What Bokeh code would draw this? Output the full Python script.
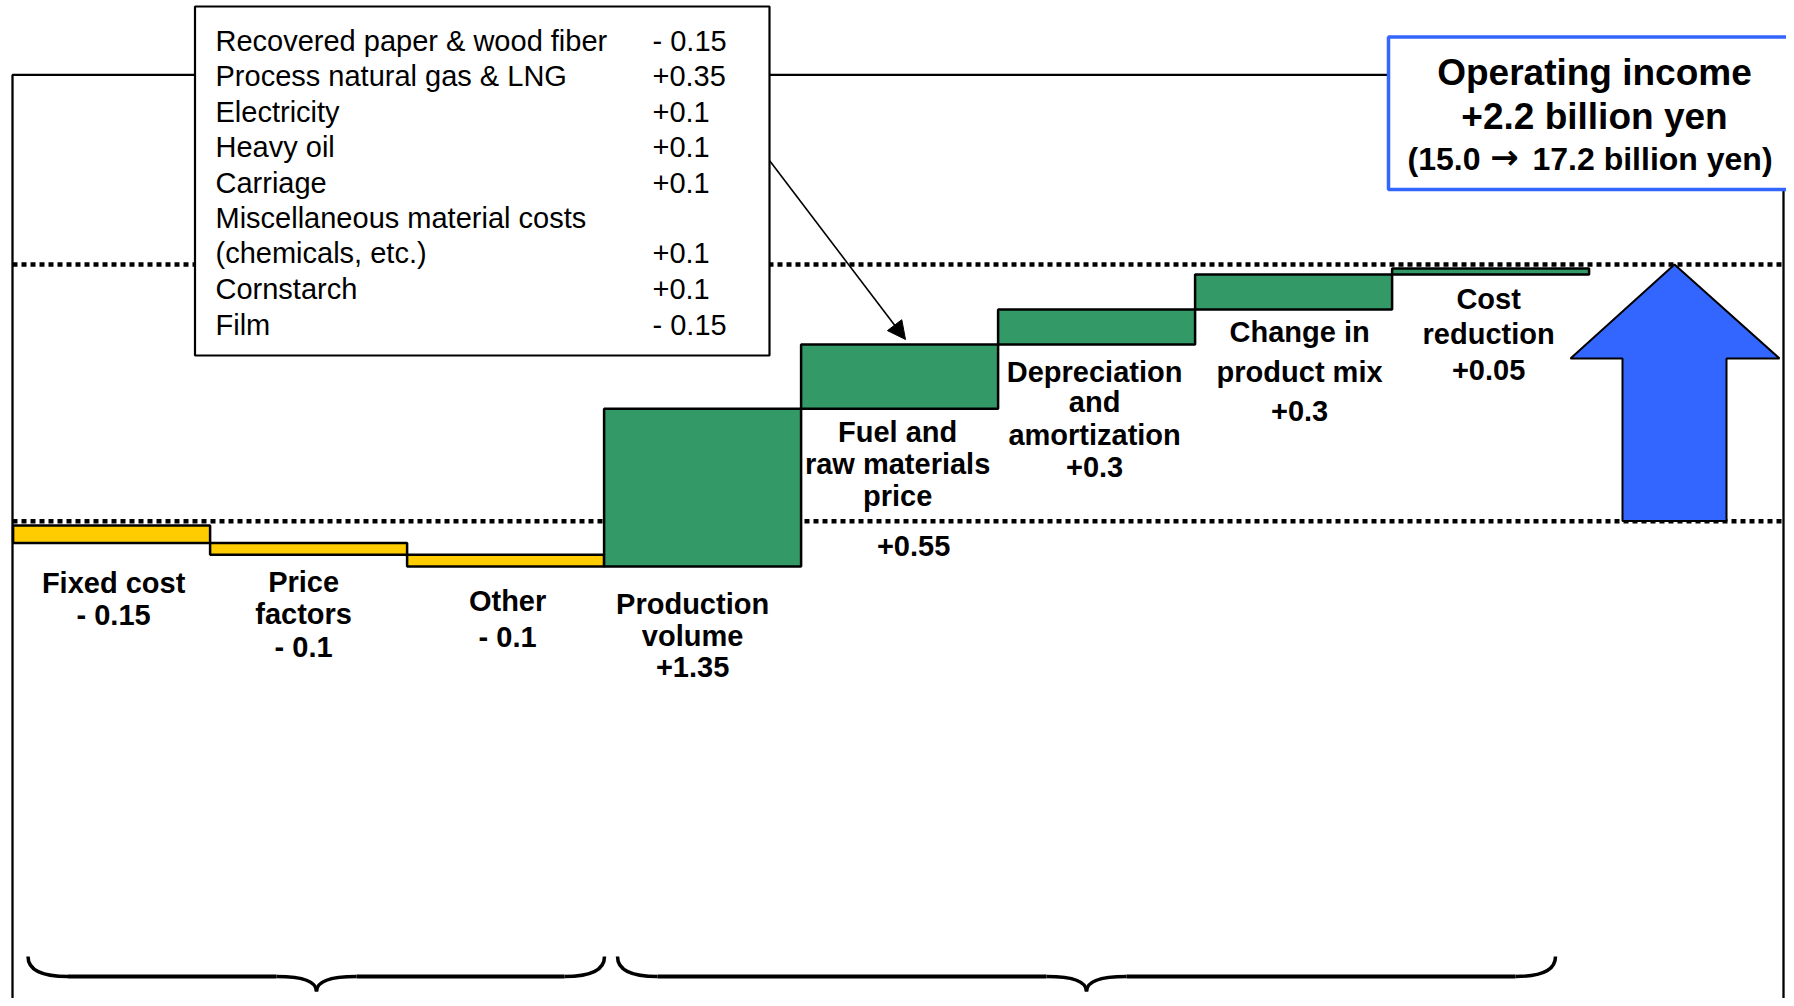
import numpy as np
from bokeh.plotting import figure
from bokeh.models import Range1d, Arrow, NormalHead
from bokeh.embed import file_html
from bokeh.resources import INLINE
from bokeh.core.properties import value

# ---------------- data ----------------
categories = ["Fixed cost", "Price\nfactors", "Other", "Production\nvolume",
              "Fuel and\nraw materials\nprice", "Depreciation\nand\namortization",
              "Change in\nproduct mix", "Cost\nreduction"]
changes = [-0.15, -0.1, -0.1, 1.35, 0.55, 0.3, 0.3, 0.05]
start_income = 15.0
end_income = 17.2

fuel_items = ["Recovered paper & wood fiber", "Process natural gas & LNG", "Electricity",
              "Heavy oil", "Carriage", "Miscellaneous material costs", "(chemicals, etc.)",
              "Cornstarch", "Film"]
fuel_values = [-0.15, 0.35, 0.1, 0.1, 0.1, None, 0.1, 0.1, -0.15]

# ---------------- layout helpers (reference pixel -> data) ----------------
PX0, PXW = 12.6, 197.0       # left of first bar, width per category
PY0, PYU = 525.0, 116.8      # pixel of start level, pixels per billion yen
W, H = 1786, 998

def X(px):
    return (px - PX0) / PXW

def Y(py):
    return start_income + (PY0 - py) / PYU

FONT = value("Liberation Sans")
YELLOW = "#FFCC00"
GREEN = "#339966"
BLUE = "#3366FF"

def fmt(v):
    return ("- " if v < 0 else "+") + f"{abs(v):g}"

p = figure(width=W, height=H, output_backend="svg", toolbar_location=None,
           x_range=Range1d(X(0), X(W)), y_range=Range1d(Y(H), Y(0)),
           x_axis_type=None, y_axis_type=None, min_border=0)
p.grid.visible = False
p.outline_line_color = None
p.background_fill_color = "white"
p.border_fill_color = "white"

# frame
p.multi_line(xs=[[X(12), X(12), X(1783), X(1783)]],
             ys=[[Y(1020), Y(74.4), Y(74.4), Y(1020)]],
             line_color="black", line_width=2.3)

# dotted reference lines (start and end income levels)
for py in (520.7, 264.0):
    p.segment(x0=[X(12)], y0=[Y(py)], x1=[X(1783)], y1=[Y(py)],
              line_color="black", line_width=4.5, line_dash="5 4")

# waterfall bars
levels = start_income + np.concatenate([[0.0], np.cumsum(changes)])
n = len(changes)
left = np.arange(n)
right = left + 1
bottoms = np.minimum(levels[:-1], levels[1:])
tops = np.maximum(levels[:-1], levels[1:])
colors = [YELLOW if c < 0 else GREEN for c in changes]
p.quad(left=left, right=right, bottom=bottoms, top=tops, fill_color=colors,
       line_color="black", line_width=2.5)

# big blue arrow from start level to end level
ax = [1674, 1779, 1726, 1726, 1622, 1622, 1570]
ay = [264, 358, 358, 520.5, 520.5, 358, 358]
p.patch(x=[X(v) for v in ax], y=[Y(v) for v in ay], fill_color=BLUE,
        line_color="black", line_width=2)

# breakdown box
p.quad(left=[X(194.5)], right=[X(769)], top=[Y(6)], bottom=[Y(355)],
       fill_color="white", line_color="black", line_width=2.2)
row_y = [40, 75.5, 111, 146.5, 182, 217, 252, 288, 324]
p.text(x=[X(215)] * len(fuel_items), y=[Y(v) for v in row_y], text=fuel_items,
       text_font=FONT, text_font_size="29px", text_baseline="middle",
       text_align="left", text_color="black")
vals = [fmt(v) if v is not None else "" for v in fuel_values]
p.text(x=[X(652)] * len(vals), y=[Y(v) for v in row_y], text=vals,
       text_font=FONT, text_font_size="29px", text_baseline="middle",
       text_align="left", text_color="black")

# total box
total = end_income - start_income
p.quad(left=[X(1388)], right=[X(1810)], top=[Y(36.6)], bottom=[Y(189)],
       fill_color="white", line_color=BLUE, line_width=3.5)
cx = X(1594)
p.text(x=[cx, cx], y=[Y(72), Y(115.5)],
       text=["Operating income", f"+{total:.1f} billion yen"],
       text_font=FONT, text_font_size="37px", text_font_style="bold",
       text_baseline="middle", text_align="center", text_color="black")
p.text(x=[X(1480)], y=[Y(158)], text=[f"({start_income:.1f}"],
       text_font=FONT, text_font_size="32px", text_font_style="bold",
       text_baseline="middle", text_align="right", text_color="black")
p.text(x=[X(1504)], y=[Y(156)], text=["\u2192"],
       text_font=value("DejaVu Sans"), text_font_size="34px", text_font_style="bold",
       text_baseline="middle", text_align="center", text_color="black")
p.text(x=[X(1532)], y=[Y(158)], text=[f"{end_income:.1f} billion yen)"],
       text_font=FONT, text_font_size="32px", text_font_style="bold",
       text_baseline="middle", text_align="left", text_color="black")

# pointer arrow from box to fuel bar
p.add_layout(Arrow(end=NormalHead(size=18, fill_color="black", line_color="black"),
                   x_start=X(769), y_start=Y(160), x_end=X(905), y_end=Y(339),
                   line_color="black", line_width=1.6))

# bar labels
label_ys = [[582, 614], [581, 613, 646], [600.6, 636], [603, 635, 666],
            [431.7, 463, 495], [371.7, 401.7, 434, 466], [331.7, 371.7, 410.7],
            [298, 333, 369]]
label_dx = [2, -5, 2, -10, -2, -2, 6, -2]
lx, ly, lt = [], [], []
for i, (name, ch) in enumerate(zip(categories, changes)):
    lines = name.split("\n")
    if i != 4:
        lines = lines + [fmt(ch)]
    for t, yy in zip(lines, label_ys[i]):
        lx.append(i + 0.5 + label_dx[i] / PXW)
        ly.append(Y(yy))
        lt.append(t)
# the fuel value label sits below the start line
lx.append(4.5 + 14 / PXW)
ly.append(Y(545))
lt.append(fmt(changes[4]))
p.text(x=lx, y=ly, text=lt, text_font=FONT, text_font_size="29px",
       text_font_style="bold", text_baseline="middle", text_align="center",
       text_color="black")

# braces at bottom
def brace(x0, x1, xm, y_end=956, y_line=976, y_tip=991, r=40):
    kw = dict(line_color="black", line_width=3.5)
    p.quadratic(x0=[X(x0)], y0=[Y(y_end)], x1=[X(x0 + r)], y1=[Y(y_line)],
                cx=[X(x0)], cy=[Y(y_line)], **kw)
    p.segment(x0=[X(x0 + r)], y0=[Y(y_line)], x1=[X(xm - r)], y1=[Y(y_line)],
              line_color="black", line_width=4)
    p.quadratic(x0=[X(xm - r)], y0=[Y(y_line)], x1=[X(xm)], y1=[Y(y_tip)],
                cx=[X(xm)], cy=[Y(y_line)], **kw)
    p.quadratic(x0=[X(xm)], y0=[Y(y_tip)], x1=[X(xm + r)], y1=[Y(y_line)],
                cx=[X(xm)], cy=[Y(y_line)], **kw)
    p.segment(x0=[X(xm + r)], y0=[Y(y_line)], x1=[X(x1 - r)], y1=[Y(y_line)],
              line_color="black", line_width=4)
    p.quadratic(x0=[X(x1 - r)], y0=[Y(y_line)], x1=[X(x1)], y1=[Y(y_end)],
                cx=[X(x1)], cy=[Y(y_line)], **kw)

brace(27.5, 604, 316)
brace(617, 1555, 1086)

open("out.html", "w").write(file_html(p, INLINE))
